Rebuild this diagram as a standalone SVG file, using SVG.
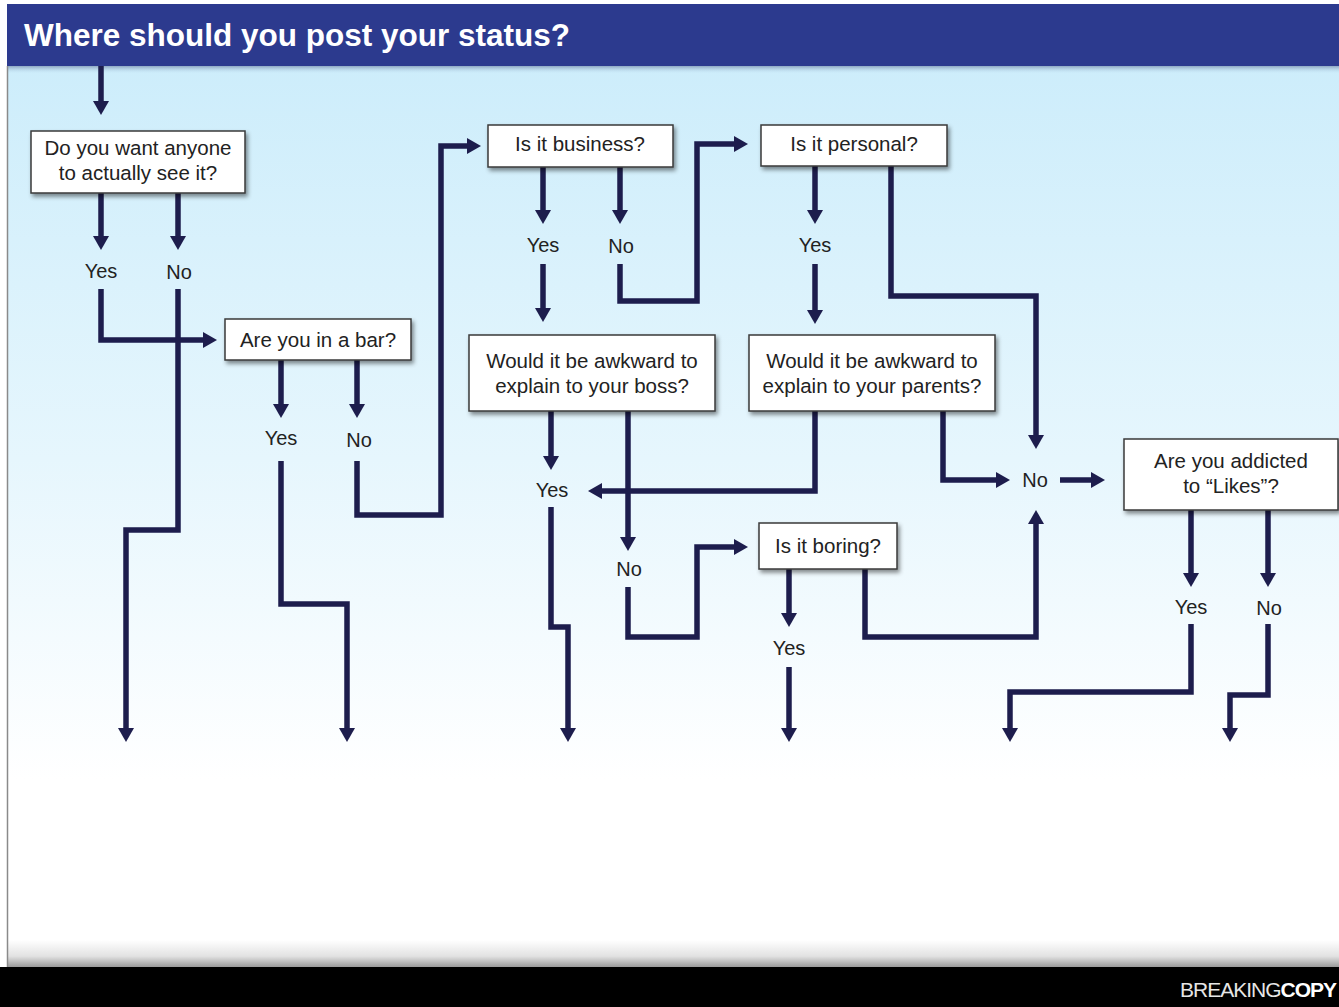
<svg xmlns="http://www.w3.org/2000/svg" width="1339" height="1007" viewBox="0 0 1339 1007">
  <defs>
    <linearGradient id="sky" x1="0" y1="66" x2="0" y2="780" gradientUnits="userSpaceOnUse">
      <stop offset="0" stop-color="#cdedfb"/>
      <stop offset="0.55" stop-color="#e6f6fd"/>
      <stop offset="1" stop-color="#ffffff"/>
    </linearGradient>
    <linearGradient id="floorShade" x1="0" y1="940" x2="0" y2="967" gradientUnits="userSpaceOnUse">
      <stop offset="0" stop-color="#ffffff"/>
      <stop offset="0.6" stop-color="#e2e2e2"/>
      <stop offset="1" stop-color="#9a9a9a"/>
    </linearGradient>
    <linearGradient id="headShade" x1="0" y1="66" x2="0" y2="74" gradientUnits="userSpaceOnUse">
      <stop offset="0" stop-color="#7d95b4" stop-opacity="0.8"/>
      <stop offset="1" stop-color="#cdedfb" stop-opacity="0"/>
    </linearGradient>
    <filter id="shadow" x="-10%" y="-20%" width="125%" height="150%">
      <feDropShadow dx="2" dy="3" stdDeviation="2.2" flood-color="#000" flood-opacity="0.45"/>
    </filter>
    <marker id="head" viewBox="0 -8 14 16" refX="1" refY="0" markerWidth="14" markerHeight="16" markerUnits="userSpaceOnUse" orient="auto">
      <path d="M0,-8 L14,0 L0,8 z" fill="#1d1d4d"/>
    </marker>
    <style>
      .box { fill: #ffffff; stroke: #3a3a3a; stroke-width: 1.5; filter: url(#shadow); }
      .q { font-family: "Liberation Sans", Arial, Helvetica, sans-serif; font-size: 20.5px; fill: #222222; text-anchor: middle; }
      .lbl { font-family: "Liberation Sans", Arial, Helvetica, sans-serif; font-size: 20px; fill: #222222; text-anchor: middle; }
      .wire { fill: none; stroke: #1d1d4d; stroke-width: 5.5; stroke-linejoin: miter; stroke-linecap: butt; }
      .arrow { marker-end: url(#head); }
    </style>
  </defs>

  <!-- page -->
  <rect x="0" y="0" width="1339" height="1007" fill="#ffffff"/>
  <rect x="7" y="66" width="1332" height="901" fill="url(#sky)"/>
  <rect x="7" y="780" width="1332" height="187" fill="#ffffff"/>
  <rect x="7" y="940" width="1332" height="27" fill="url(#floorShade)"/>
  <rect x="7" y="66" width="1332" height="8" fill="url(#headShade)"/>
  <line x1="7.5" y1="66" x2="7.5" y2="967" stroke="#8a8a8a" stroke-width="1.5"/>

  <!-- title bar -->
  <rect x="7" y="4" width="1332" height="62" fill="#2c3a8e"/>
  <text x="24" y="46" font-family="'Liberation Sans', Arial, Helvetica, sans-serif" font-size="31.5" font-weight="bold" fill="#ffffff">Where should you post your status?</text>

  <!-- footer -->
  <rect x="0" y="967" width="1339" height="40" fill="#000000"/>
  <text x="1180" y="997" font-family="'Liberation Sans Narrow', 'Liberation Sans', Arial, sans-serif" font-size="21" fill="#ffffff" letter-spacing="-1"><tspan font-weight="normal" fill="#e6e6e6">BREAKING</tspan><tspan font-weight="bold">COPY</tspan></text>

  <!-- connectors -->
  <g id="connectors">
    <path class="wire arrow" d="M101,66 V102"/>
    <path class="wire arrow" d="M101,193 V237"/>
    <path class="wire arrow" d="M178,193 V237"/>
    <path class="wire arrow" d="M101,289 V340 H204"/>
    <path class="wire arrow" d="M178,289 V530 H126 V729"/>
    <path class="wire arrow" d="M281,360 V405"/>
    <path class="wire arrow" d="M357,360 V405"/>
    <path class="wire arrow" d="M281,461 V604 H347 V729"/>
    <path class="wire arrow" d="M357,461 V515 H441 V146 H468"/>
    <path class="wire arrow" d="M543,167 V211"/>
    <path class="wire arrow" d="M620,167 V211"/>
    <path class="wire arrow" d="M543,264 V309"/>
    <path class="wire arrow" d="M620,264 V301 H697 V144 H735"/>
    <path class="wire arrow" d="M815,166 V211"/>
    <path class="wire arrow" d="M815,264 V311"/>
    <path class="wire arrow" d="M891,166 V296 H1036 V436"/>
    <path class="wire arrow" d="M551,411 V457"/>
    <path class="wire arrow" d="M628,411 V538"/>
    <path class="wire arrow" d="M815,411 V491 H601"/>
    <path class="wire arrow" d="M943,411 V480 H997"/>
    <path class="wire arrow" d="M1060,480 H1092"/>
    <path class="wire arrow" d="M551,507 V627 H568 V729"/>
    <path class="wire arrow" d="M628,587 V637 H697 V547 H735"/>
    <path class="wire arrow" d="M789,569 V614"/>
    <path class="wire arrow" d="M789,667 V729"/>
    <path class="wire arrow" d="M865,569 V637 H1036 V523"/>
    <path class="wire arrow" d="M1191,510 V574"/>
    <path class="wire arrow" d="M1268,510 V574"/>
    <path class="wire arrow" d="M1191,624 V692 H1010 V729"/>
    <path class="wire arrow" d="M1268,624 V695 H1230 V729"/>
  </g>

  <!-- branch labels -->
  <g id="labels">
    <text class="lbl" x="101" y="278">Yes</text>
    <text class="lbl" x="179" y="279">No</text>
    <text class="lbl" x="281" y="445">Yes</text>
    <text class="lbl" x="359" y="447">No</text>
    <text class="lbl" x="543" y="252">Yes</text>
    <text class="lbl" x="621" y="253">No</text>
    <text class="lbl" x="815" y="252">Yes</text>
    <text class="lbl" x="552" y="497">Yes</text>
    <text class="lbl" x="629" y="576">No</text>
    <text class="lbl" x="1035" y="487">No</text>
    <text class="lbl" x="789" y="655">Yes</text>
    <text class="lbl" x="1191" y="614">Yes</text>
    <text class="lbl" x="1269" y="615">No</text>
  </g>

  <!-- question nodes -->
  <g id="node-see">
    <rect class="box" x="31" y="131" width="214" height="62"/>
    <text class="q" x="138" y="155">Do you want anyone</text>
    <text class="q" x="138" y="180">to actually see it?</text>
  </g>
  <g id="node-bar">
    <rect class="box" x="225" y="319" width="186" height="41"/>
    <text class="q" x="318" y="347">Are you in a bar?</text>
  </g>
  <g id="node-business">
    <rect class="box" x="488" y="125" width="185" height="42"/>
    <text class="q" x="580" y="151">Is it business?</text>
  </g>
  <g id="node-personal">
    <rect class="box" x="761" y="125" width="186" height="41"/>
    <text class="q" x="854" y="151">Is it personal?</text>
  </g>
  <g id="node-boss">
    <rect class="box" x="469" y="335" width="246" height="76"/>
    <text class="q" x="592" y="368">Would it be awkward to</text>
    <text class="q" x="592" y="393">explain to your boss?</text>
  </g>
  <g id="node-parents">
    <rect class="box" x="749" y="335" width="246" height="76"/>
    <text class="q" x="872" y="368">Would it be awkward to</text>
    <text class="q" x="872" y="393">explain to your parents?</text>
  </g>
  <g id="node-likes">
    <rect class="box" x="1124" y="439" width="214" height="71"/>
    <text class="q" x="1231" y="468">Are you addicted</text>
    <text class="q" x="1231" y="493">to “Likes”?</text>
  </g>
  <g id="node-boring">
    <rect class="box" x="759" y="523" width="138" height="46"/>
    <text class="q" x="828" y="553">Is it boring?</text>
  </g>
</svg>
